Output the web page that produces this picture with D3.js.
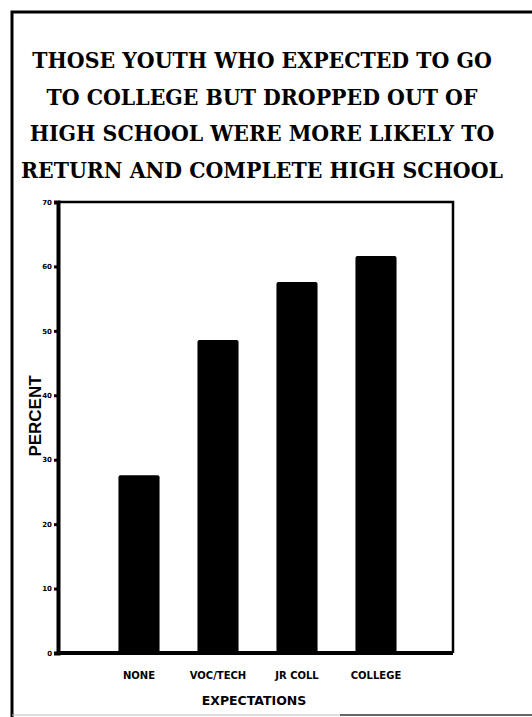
<!DOCTYPE html>
<html lang="en">
<head>
  <meta charset="UTF-8">
  <title>Youth expectations chart</title>
  <style>
    body { margin: 0; background: #fff; }
    svg { display: block; }
  </style>
</head>
<body>
  <script src="https://d3js.org/d3.v7.min.js"></script>
  <script>
    const titleLines = [
      "THOSE YOUTH WHO EXPECTED TO GO",
      "TO COLLEGE BUT DROPPED OUT OF",
      "HIGH SCHOOL WERE MORE LIKELY TO",
      "RETURN AND COMPLETE HIGH SCHOOL"
    ];
    const categories = ["NONE", "VOC/TECH", "JR COLL", "COLLEGE"];
    const percents = [27.6, 48.6, 57.6, 61.6];
    const yTicks = [0, 10, 20, 30, 40, 50, 60, 70];

    const width = 532, height = 717;
    const plot = { left: 58, right: 453, top: 202, bottom: 653 };

    const svg = d3.select('body')
      .append('svg')
      .attr('width', width)
      .attr('height', height);

    // outer frame (left + top edges, bottom faint)
    svg.append('path')
      .attr('d', `M12,717 L12,12 L532,12`)
      .attr('fill', 'none')
      .attr('stroke', '#000')
      .attr('stroke-width', 3);
    svg.append('line')
      .attr('x1', 12).attr('x2', 340).attr('y1', 715).attr('y2', 715)
      .attr('stroke', '#bbb').attr('stroke-width', 1);
    svg.append('line')
      .attr('x1', 340).attr('x2', 532).attr('y1', 715).attr('y2', 715)
      .attr('stroke', '#333').attr('stroke-width', 1.5);

    // title, a bit stretched vertically like the typewriter original
    svg.append('g')
      .selectAll('text')
      .data(titleLines)
      .join('text')
      .attr('transform', (d, i) => `translate(262,${68 + i * 36.5}) scale(1,1.12)`)
      .attr('text-anchor', 'middle')
      .style('font-family', '"DejaVu Serif", serif')
      .style('font-weight', 'bold')
      .style('font-size', '20.5px')
      .attr('fill', '#000')
      .text(d => d);

    const x = d3.scaleBand()
      .domain(categories)
      .range([99.5, 415.5])
      .paddingInner(0.48)
      .paddingOuter(0.24);

    const y = d3.scaleLinear()
      .domain([0, 70])
      .range([plot.bottom, plot.top]);

    // plot box: thin top and right
    svg.append('path')
      .attr('d', `M${plot.left},${plot.top} L${plot.right},${plot.top} L${plot.right},${plot.bottom}`)
      .attr('fill', 'none')
      .attr('stroke', '#000')
      .attr('stroke-width', 2.5);

    // bars
    svg.append('g')
      .selectAll('rect')
      .data(percents)
      .join('rect')
      .attr('x', (d, i) => x(categories[i]))
      .attr('y', d => y(d))
      .attr('width', x.bandwidth())
      .attr('height', d => y(0) - y(d))
      .attr('rx', 2)
      .attr('fill', '#000');

    // y axis
    const yAxis = svg.append('g')
      .attr('transform', `translate(${plot.left},0)`)
      .call(d3.axisLeft(y).tickValues(yTicks).tickSize(4).tickPadding(2));
    yAxis.select('.domain').attr('stroke-width', 4);
    yAxis.selectAll('.tick line').attr('stroke-width', 3);
    yAxis.selectAll('.tick text')
      .style('font-family', '"DejaVu Sans", sans-serif')
      .style('font-weight', 'bold')
      .style('font-size', '7px')
      .attr('fill', '#000');

    // x axis
    const xAxis = svg.append('g')
      .attr('transform', `translate(0,${plot.bottom})`)
      .call(d3.axisBottom(x).tickSize(0).tickPadding(19));
    xAxis.select('.domain')
      .attr('d', `M${plot.left},0 H${plot.right}`)
      .attr('stroke-width', 4);
    xAxis.selectAll('.tick text')
      .style('font-family', '"DejaVu Sans", sans-serif')
      .style('font-weight', 'bold')
      .style('font-size', '10px')
      .attr('fill', '#000');

    svg.append('text')
      .attr('x', 254)
      .attr('y', 705)
      .attr('text-anchor', 'middle')
      .style('font-family', '"DejaVu Sans", sans-serif')
      .style('font-weight', 'bold')
      .style('font-size', '12.5px')
      .text('EXPECTATIONS');

    svg.append('text')
      .attr('transform', 'translate(41,416) rotate(-90)')
      .attr('text-anchor', 'middle')
      .style('font-family', '"Liberation Sans", Arial, sans-serif')
      .style('font-weight', 'bold')
      .style('font-size', '17px')
      .text('PERCENT');
  </script>
</body>
</html>
